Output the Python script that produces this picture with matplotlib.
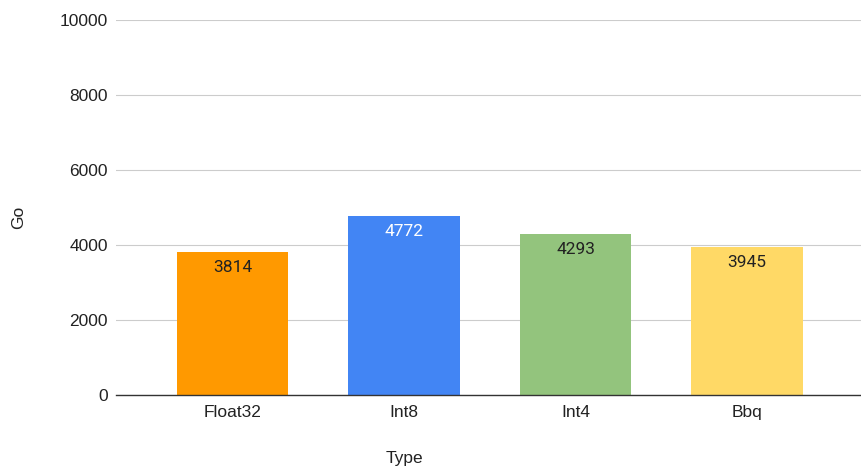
import matplotlib
matplotlib.use("Agg")
import matplotlib.pyplot as plt

categories = ["Float32", "Int8", "Int4", "Bbq"]
values = [3814, 4772, 4293, 3945]
colors = ["#FF9900", "#4285F4", "#93C47D", "#FFD966"]
label_colors = ["#222222", "#FFFFFF", "#222222", "#222222"]
yticks = [0, 2000, 4000, 6000, 8000, 10000]

plt.rcParams["font.family"] = ["Liberation Sans", "DejaVu Sans"]

fig = plt.figure(figsize=(8.62, 4.67), dpi=100)
ax = fig.add_axes([0.1346, 0.1542, 0.8654, 0.8030])

x = list(range(len(categories)))
ax.bar(x, values, width=0.65, color=colors, zorder=2)

for xi, v, c in zip(x, values, label_colors):
    ax.annotate(f"{v}", xy=(xi, v), xytext=(0, -11), textcoords="offset points",
                ha="center", va="center", fontsize=12.5, color=c,
                family=["Roboto", "DejaVu Sans"], zorder=3)

ax.set_ylim(0, 10000)
ax.set_xlim(-0.68, 3.67)
ax.set_yticks(yticks)
ax.set_yticklabels([str(t) for t in yticks], fontsize=12.5, color="#222222")
ax.set_xticks(x)
ax.set_xticklabels(categories, fontsize=12.5, color="#222222")

ax.grid(axis="y", color="#CCCCCC", linewidth=0.8, zorder=0)
ax.tick_params(axis="y", length=0, pad=5.8)
ax.tick_params(axis="x", length=0, pad=7.2)
for side in ["top", "right", "left"]:
    ax.spines[side].set_visible(False)
ax.spines["bottom"].set_color("#333333")
ax.spines["bottom"].set_linewidth(1.0)
ax.spines["bottom"].set_zorder(4)

fig.text(404 / 862, 1 - 459 / 467, "Type", ha="center", va="center",
         fontsize=12.5, color="#222222")
fig.text(19 / 862, 1 - 217 / 467, "Go", ha="center", va="center",
         rotation=90, fontsize=12.5, color="#222222")

fig.savefig("out.png", dpi=100, facecolor="white")
